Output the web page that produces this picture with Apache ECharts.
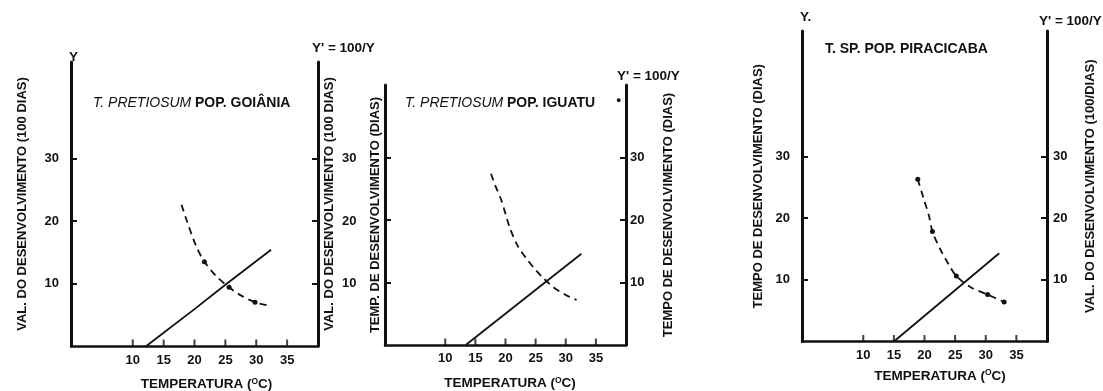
<!DOCTYPE html>
<html>
<head>
<meta charset="utf-8">
<style>
  html, body { margin: 0; padding: 0; background: #fff; }
  #chart { width: 1103px; height: 391px; }
</style>
<script src="https://cdn.jsdelivr.net/npm/echarts@6/dist/echarts.min.js"></script>
</head>
<body>
<div id="chart"></div>
<script>
// ticks shown on every panel
const xTicks = [10, 15, 20, 25, 30, 35]
const yTicks = [10, 20, 30]

// Goiânia: rate (solid) and time (dashed)
const rateT1 = [12.2, 20, 25, 32.4]
const rateV1 = [0, 5.9, 9.8, 15.4]
const timeT1 = [17.9, 18.7, 20.3, 21.6, 23.5, 25.6, 27.5, 29.8, 32.4]
const timeV1 = [22.6, 20.2, 15.9, 13.5, 11.2, 9.4, 8.1, 7.0, 6.4]
const dotsT1 = [21.6, 25.6, 29.8]

// Iguatu
const rateT2 = [13.4, 32.6]
const rateV2 = [0, 14.6]
const timeT2 = [17.6, 18.3, 19.3, 20.7, 22.0, 23.5, 25.0, 26.3, 28.0, 30.0, 31.8]
const timeV2 = [27.4, 25.5, 23.2, 18.8, 15.9, 13.8, 12.0, 10.7, 9.2, 8.0, 7.2]
const dotsT2 = []

// Piracicaba
const rateT3 = [15.0, 32.2]
const rateV3 = [0, 14.3]
const timeT3 = [18.9, 19.9, 20.7, 21.3, 22.6, 24.0, 25.2, 27.5, 30.3, 33.0]
const timeV3 = [26.3, 23.0, 20.5, 17.8, 14.9, 12.4, 10.6, 8.8, 7.6, 6.4]
const dotsT3 = [18.9, 21.3, 25.2, 30.3, 33.0]

const FONT = '"Liberation Sans", Arial, sans-serif'
const INK = '#111'
const XMAX = 40

// grid boxes (px) for the three panels
const panels = [
  { left: 71, top: 62, width: 247, height: 284, ymax: 45.44,
    leftName: 'VAL. DO DESENVOLVIMENTO (100 DIAS)', rightName: 'VAL. DO DESENVOLVIMENTO (100 DIAS)',
    leftLabels: true, rightLabels: true, lMargin: 12, rMargin: 24, lGap: 42, rGap: 5,
    xShift: 24, xGap: 31, xMargin: 8 },
  { left: 385, top: 85, width: 241, height: 260, ymax: 41.6,
    leftName: 'TEMP. DE DESENVOLVIMENTO (DIAS)', rightName: 'TEMPO DE DESENVOLVIMENTO (DIAS)',
    leftLabels: false, rightLabels: true, lMargin: 12, rMargin: 4, lGap: 3, rGap: 36,
    xShift: 9, xGap: 31, xMargin: 7 },
  { left: 802, top: 31, width: 245, height: 310.5, ymax: 50.3,
    leftName: 'TEMPO DE DESENVOLVIMENTO (DIAS)', rightName: 'VAL. DO DESENVOLVIMENTO (100/DIAS)',
    leftLabels: true, rightLabels: true, lMargin: 12, rMargin: 6, lGap: 37, rGap: 37,
    xShift: 31, xGap: 27, xMargin: 7 }
]

function pairs(ts, vs, dots) {
  return ts.map((t, i) => {
    if (dots && dots.indexOf(t) >= 0) {
      return { value: [t, vs[i]], symbol: 'circle', symbolSize: 5 }
    }
    return [t, vs[i]]
  })
}

const grid = []
const xAxis = []
const yAxis = []
panels.forEach((p, i) => {
  grid.push({ left: p.left, top: p.top, width: p.width, height: p.height, outerBoundsMode: 'none' })
  xAxis.push({
    type: 'value', gridIndex: i, min: 0, max: XMAX,
    name: 'TEMPERATURA ({sup|O}C)', nameLocation: 'middle', nameGap: p.xGap, nameMoveOverlap: false,
    nameTextStyle: {
      color: INK, fontFamily: FONT, fontWeight: 'bold', fontSize: 13.5,
      padding: [0, 0, 0, p.xShift],
      rich: { sup: { fontSize: 8.5, fontWeight: 'bold', fontFamily: FONT, color: INK, verticalAlign: 'top', padding: [0, 0, 6, 0] } }
    },
    axisLine: { onZero: false, lineStyle: { color: INK, width: 2.5 } },
    axisTick: { show: false },
    axisLabel: { customValues: xTicks, margin: p.xMargin, color: INK, fontFamily: FONT, fontWeight: 'bold', fontSize: 13 },
    splitLine: { show: false }
  })
  const side = (pos, name, labels, margin, gap) => ({
    type: 'value', gridIndex: i, position: pos, min: 0, max: p.ymax,
    name: name, nameLocation: 'middle', nameRotate: 90, nameGap: gap, nameMoveOverlap: false,
    nameTextStyle: { color: INK, fontFamily: FONT, fontWeight: 'bold', fontSize: 13 },
    axisLine: { show: true, onZero: false, lineStyle: { color: INK, width: 3 } },
    axisTick: { show: true, inside: true, length: 6, customValues: yTicks, lineStyle: { color: INK, width: 2 } },
    axisLabel: { show: labels, customValues: yTicks, margin: margin, color: INK, fontFamily: FONT, fontWeight: 'bold', fontSize: 13 },
    splitLine: { show: false }
  })
  yAxis.push(side('left', p.leftName, p.leftLabels, p.lMargin, p.lGap))
  yAxis.push(side('right', p.rightName, p.rightLabels, p.rMargin, p.rGap))
})

const solid = (i, ts, vs) => ({
  type: 'line', xAxisIndex: i, yAxisIndex: i * 2, data: pairs(ts, vs),
  symbol: 'none', lineStyle: { color: INK, width: 1.8 }, silent: true
})
const dashed = (i, ts, vs, dots) => ({
  type: 'line', xAxisIndex: i, yAxisIndex: i * 2, data: pairs(ts, vs, dots),
  smooth: 0.3, symbol: 'none', itemStyle: { color: INK },
  lineStyle: { color: INK, width: 1.8, type: [7, 5] }, silent: true
})
// short upright x ticks sitting on the axis line, placed by the x scale
const xTickMarks = (i) => ({
  type: 'scatter', xAxisIndex: i, yAxisIndex: i * 2, data: xTicks.map(t => [t, 0]),
  symbol: 'rect', symbolSize: [2, 7], symbolOffset: [0, -3], clip: false,
  itemStyle: { color: INK }, silent: true, z: 5
})

const textStyle = { color: INK, fontFamily: FONT, fontWeight: 'bold', fontSize: 13.5 }
const richTitle = {
  i: { fontStyle: 'italic', fontWeight: 'normal', fontFamily: FONT, fontSize: 14, color: INK },
  b: { fontWeight: 'bold', fontFamily: FONT, fontSize: 14, color: INK }
}

const option = {
  animation: false,
  backgroundColor: '#fff',
  title: [
    { text: 'Y', left: 64, top: 45, textStyle },
    { text: "Y' = 100/Y", left: 307, top: 36, textStyle },
    { text: '{i|T. PRETIOSUM} {b|POP. GOIÂNIA}', left: 88, top: 91, textStyle: { ...textStyle, rich: richTitle } },
    { text: "Y' = 100/Y", left: 612, top: 64, textStyle },
    { text: '{i|T. PRETIOSUM} {b|POP. IGUATU}', left: 400, top: 91, textStyle: { ...textStyle, rich: richTitle } },
    { text: '●', left: 611, top: 91, textStyle: { ...textStyle, fontSize: 9 } },
    { text: 'Y.', left: 795, top: 5, textStyle },
    { text: "Y' = 100/Y", left: 1034, top: 9, textStyle },
    { text: '{b|T. SP. POP. PIRACICABA}', left: 820, top: 37, textStyle: { ...textStyle, rich: richTitle } }
  ],
  grid,
  xAxis,
  yAxis,
  series: [
    solid(0, rateT1, rateV1), dashed(0, timeT1, timeV1, dotsT1),
    solid(1, rateT2, rateV2), dashed(1, timeT2, timeV2, dotsT2),
    solid(2, rateT3, rateV3), dashed(2, timeT3, timeV3, dotsT3),
    xTickMarks(0), xTickMarks(1), xTickMarks(2)
  ]
}

const myChart = echarts.init(document.getElementById('chart'))
myChart.setOption(option)
</script>
</body>
</html>
